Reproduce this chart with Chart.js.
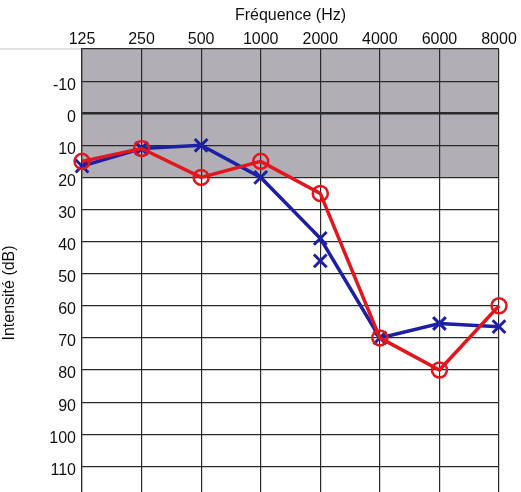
<!DOCTYPE html>
<html>
<head>
<meta charset="utf-8">
<script src="https://cdn.jsdelivr.net/npm/chart.js@4/dist/chart.umd.min.js"></script>
<style>
html,body{margin:0;padding:0;background:#fff;}
#wrap{width:521px;height:492px;position:relative;}
</style>
</head>
<body>
<div id="wrap"><canvas id="c" width="521" height="492"></canvas></div>
<script>
const frequencies = ['125','250','500','1000','2000','4000','6000','8000'];
const rightEar = [15, 11, 20, 15, 25, 70, 80, 60];      // red circles
const leftEar = [16.5, 11, 10, 20, 39, 70, 65.5, 66.5];  // blue crosses
const leftExtra = [null, null, null, null, 46, null, null, null]; // isolated cross at 2000
const dbTicks = [-20, -10, 0, 10, 20, 30, 40, 50, 60, 70, 80, 90, 100, 110];
const shadeRange = [-20, 20];
const yTitle = 'Intensité (dB)';

const RED = '#e2161c';
const BLUE = '#1d1fa6';

const shadePlugin = {
  id: 'shade',
  beforeDraw(chart) {
    const {ctx, chartArea: a, scales: {y}} = chart;
    const t = y.getPixelForValue(shadeRange[0]);
    const b = y.getPixelForValue(shadeRange[1]);
    ctx.save();
    ctx.fillStyle = '#b1aeb5';
    ctx.fillRect(a.left, t, a.right - a.left, b - t);
    ctx.strokeStyle = '#d8d8d8';
    ctx.lineWidth = 1.5;
    ctx.beginPath();
    ctx.moveTo(0, t); ctx.lineTo(a.left, t);
    ctx.stroke();
    ctx.restore();
  },
  afterDraw(chart) {
    const {ctx, scales: {y}} = chart;
    const cy = y.getPixelForValue(56);
    ctx.save();
    ctx.translate(10, cy);
    ctx.rotate(-Math.PI / 2);
    ctx.fillStyle = '#111';
    ctx.font = '16px "Liberation Sans"';
    ctx.textAlign = 'center';
    ctx.textBaseline = 'middle';
    ctx.fillText(yTitle, 0, 0);
    ctx.restore();
  }
};

new Chart(document.getElementById('c'), {
  type: 'line',
  data: {
    labels: frequencies,
    datasets: [
      {
        data: rightEar,
        borderColor: RED,
        borderWidth: 3.5,
        pointStyle: 'circle',
        pointRadius: 7.5,
        pointBorderWidth: 2.5,
        pointBorderColor: RED,
        pointBackgroundColor: 'rgba(0,0,0,0)',
        tension: 0,
        clip: false
      },
      {
        data: leftEar,
        borderColor: BLUE,
        borderWidth: 3.5,
        pointStyle: 'crossRot',
        pointRadius: 9,
        pointBorderWidth: 3,
        pointBorderColor: BLUE,
        tension: 0,
        clip: false
      },
      {
        data: leftExtra,
        showLine: false,
        borderColor: BLUE,
        pointStyle: 'crossRot',
        pointRadius: 9,
        pointBorderWidth: 3,
        pointBorderColor: BLUE,
        clip: false
      }
    ]
  },
  options: {
    responsive: false,
    animation: false,
    layout: {autoPadding: false, padding: {left: 0, right: 22, top: 0, bottom: 0}},
    plugins: {legend: {display: false}, tooltip: {enabled: false}},
    scales: {
      x: {
        type: 'category',
        position: 'top',
        offset: false,
        grid: {offset: false, color: '#2a2a2a', lineWidth: 1.2, drawTicks: false},
        border: {display: false},
        ticks: {
          color: '#111',
          font: {family: 'Liberation Sans', size: 16},
          padding: 0,
          maxRotation: 0,
          autoSkip: false
        },
        title: {
          display: true,
          text: 'Fréquence (Hz)',
          color: '#111',
          font: {family: 'Liberation Sans', size: 16},
          padding: {top: 6, bottom: 2}
        },
        afterFit(s) { s.height = 49; s.paddingLeft = 0; s.paddingRight = 0; }
      },
      y: {
        type: 'linear',
        reverse: true,
        min: -20,
        max: 118,
        afterBuildTicks(s) { s.ticks = dbTicks.map(v => ({value: v})); },
        grid: {
          color: '#2a2a2a',
          lineWidth: (c) => (c.tick && c.tick.value === 0 ? 2.6 : 1.2),
          drawTicks: false
        },
        border: {display: true, color: '#2a2a2a', width: 1.2},
        ticks: {
          color: '#111',
          font: {family: 'Liberation Sans', size: 16},
          padding: 6,
          labelOffset: 4,
          callback: (v) => (v === -20 ? '' : String(v))
        },
        title: {display: false},
        afterFit(s) { s.width = 82; s.paddingTop = 0; s.paddingBottom = 0; }
      }
    }
  },
  plugins: [shadePlugin]
});
</script>
</body>
</html>
